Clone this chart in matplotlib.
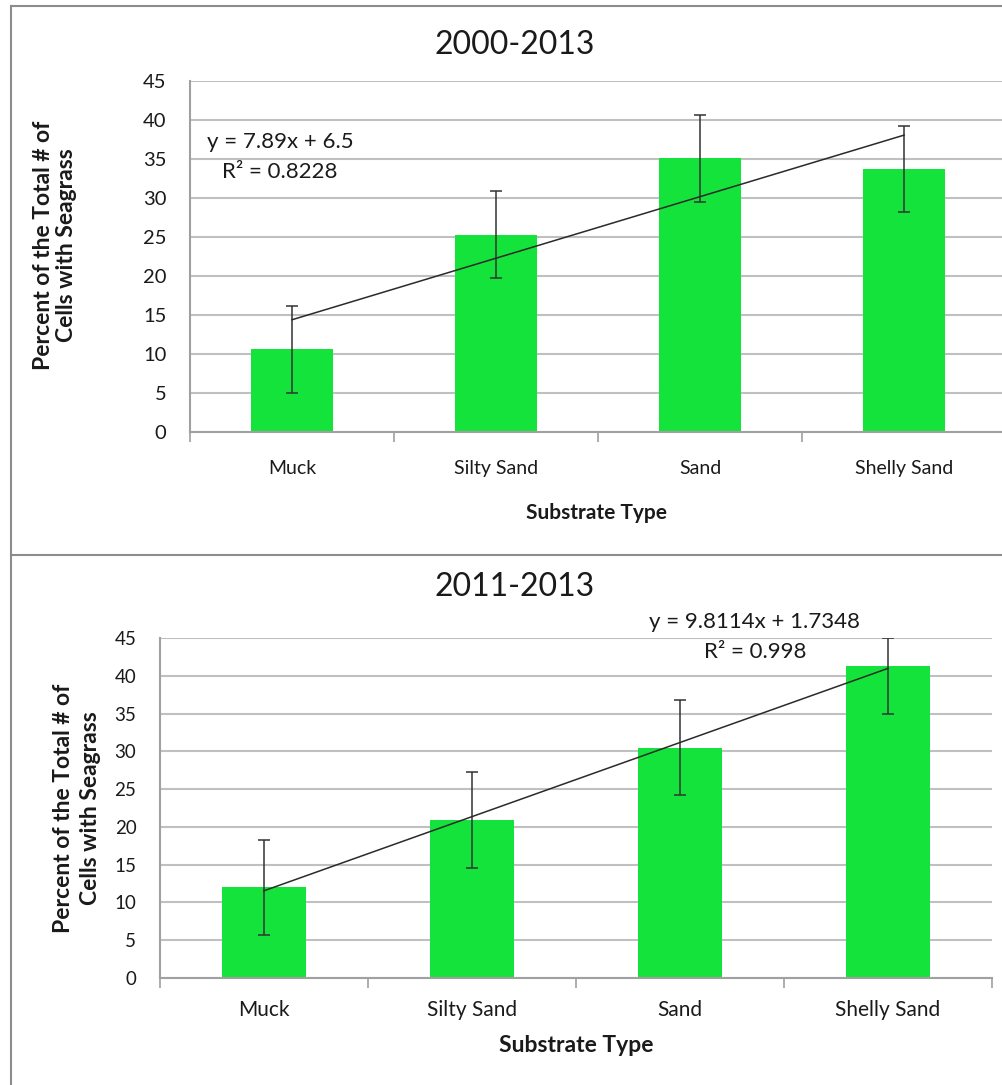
import matplotlib.pyplot as plt
from matplotlib.lines import Line2D

plt.rcParams["font.family"] = ["Lato", "DejaVu Sans"]

W, H = 1003, 1085

categories = ["Muck", "Silty Sand", "Sand", "Shelly Sand"]

# 2000-2013
values_a = [10.6, 25.3, 35.1, 33.7]
errors_a = [5.6, 5.6, 5.6, 5.5]
slope_a, icept_a = 7.89, 6.5

# 2011-2013
values_b = [12.0, 20.9, 30.5, 41.3]
errors_b = [6.3, 6.3, 6.3, 6.3]
slope_b, icept_b = 9.8114, 1.7348

GREEN = "#13e33b"
GRID = "#c0c0c0"
TXT = "#1a1a1a"


def fx(x):
    return x / W


def fy(y):
    return 1 - y / H


def make_axes(fig, left, top, right, bottom):
    return fig.add_axes([fx(left), fy(bottom), (right - left) / W, (bottom - top) / H])


def draw_panel(ax, values, errors, slope, icept, tick_fs, xtick_fs, xpad):
    x = list(range(1, len(categories) + 1))
    ax.bar(x, values, width=0.4, color=GREEN, zorder=2)
    lo = errors
    hi = [min(e, 45 - v) for v, e in zip(values, errors)]
    ax.errorbar(x, values, yerr=[lo, hi], fmt="none", ecolor="#333333",
                elinewidth=1.1, capsize=4, capthick=1.1, zorder=3)
    trend = [slope * xi + icept for xi in x]
    ax.plot([x[0], x[-1]], [trend[0], trend[-1]], color="#2a2a2a", lw=1.1, zorder=4)

    ax.set_xlim(0.5, len(categories) + 0.5)
    ax.set_ylim(0, 45)
    ax.set_yticks(range(0, 46, 5))
    ax.yaxis.grid(True, color=GRID, lw=1.5, zorder=0)
    ax.set_axisbelow(True)
    ax.tick_params(axis="y", length=0, pad=17, labelsize=tick_fs, labelcolor=TXT)

    ax.set_xticks([i + 0.5 for i in range(0, len(categories) + 1)])
    ax.set_xticklabels([])
    ax.set_xticks(x, minor=True)
    ax.set_xticklabels(categories, minor=True)
    ax.tick_params(axis="x", which="major", length=7, color="#a0a0a0", width=1.2)
    ax.tick_params(axis="x", which="minor", length=0, pad=xpad, labelsize=xtick_fs,
                   labelcolor=TXT)

    for s in ["top", "right"]:
        ax.spines[s].set_visible(False)
    for s in ["left", "bottom"]:
        ax.spines[s].set_color("#a0a0a0")
        ax.spines[s].set_linewidth(1.5)


fig = plt.figure(figsize=(W / 100, H / 100), dpi=100)

# outer frame and divider
frame = dict(color="#8c8c8c", lw=1.5, transform=fig.transFigure)
fig.add_artist(Line2D([fx(11), fx(11)], [fy(6), fy(H)], **frame))
fig.add_artist(Line2D([fx(11), 1], [fy(6), fy(6)], **frame))
fig.add_artist(Line2D([fx(11), 1], [fy(555), fy(555)], **frame))

# top panel
ax1 = make_axes(fig, 190, 81, 1006, 432)
draw_panel(ax1, values_a, errors_a, slope_a, icept_a, 14.5, 14, 20)
fig.text(fx(515), fy(45), "2000-2013", ha="center", va="center", fontsize=23, color=TXT)
fig.text(fx(207), fy(142), f"y = {slope_a}x + {icept_a}", ha="left", va="center",
         fontsize=16, color=TXT)
fig.text(fx(222), fy(172), "R² = 0.8228", ha="left", va="center", fontsize=16, color=TXT)
fig.text(fx(55), fy(245), "Percent of the Total # of\nCells with Seagrass", rotation=90,
         ha="center", va="center", fontsize=16.5, fontweight="bold", color=TXT,
         linespacing=1.15)
fig.text(fx(597), fy(513), "Substrate Type", ha="center", va="center", fontsize=15,
         fontweight="bold", color=TXT)

# bottom panel
ax2 = make_axes(fig, 160, 638, 992, 978)
draw_panel(ax2, values_b, errors_b, slope_b, icept_b, 13.5, 15, 16)
fig.text(fx(515), fy(587), "2011-2013", ha="center", va="center", fontsize=23, color=TXT)
fig.text(fx(755), fy(622), f"y = {slope_b}x + {icept_b}", ha="center", va="center",
         fontsize=16, color=TXT)
fig.text(fx(755), fy(652), "R² = 0.998", ha="center", va="center", fontsize=16, color=TXT)
fig.text(fx(77), fy(808), "Percent of the Total # of\nCells with Seagrass", rotation=90,
         ha="center", va="center", fontsize=16.5, fontweight="bold", color=TXT,
         linespacing=1.3)
fig.text(fx(576), fy(1046), "Substrate Type", ha="center", va="center", fontsize=16.5,
         fontweight="bold", color=TXT)

fig.savefig("out.png", dpi=100)
